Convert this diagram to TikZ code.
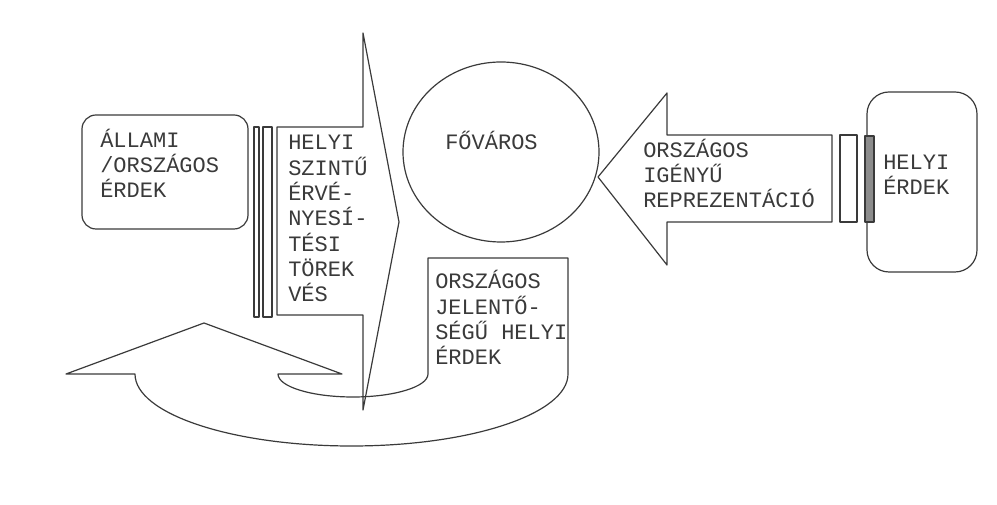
\documentclass[tikz,border=0pt]{standalone}
\usepackage{fontspec}
\setmainfont{Liberation Mono}
\definecolor{vonal}{HTML}{3A3A3A}
\tikzset{
  felirat/.style={align=left,anchor=base west,inner sep=0pt,text=vonal,
    font=\fontsize{16.5}{19}\selectfont},
  keret/.style={draw=vonal,line width=0.9pt,line join=round},
}
\begin{document}
\begin{tikzpicture}[x=0.75pt,y=-0.75pt]
    \useasboundingbox (0,0) rectangle (997,505);
    \def\jobbnyil{(277,127) -- (363,127) -- (363,33) -- (399,222) -- (363,410) -- (363,315) -- (277,315) -- cycle}
    \def\balnyil{(598,177) -- (667,93) -- (667,135) -- (832,135) -- (832,222) -- (667,222) -- (667,265) -- cycle}
    \draw [keret,rounded corners=10.5pt] (82,115) rectangle (248,229);
    \draw [keret] (254,127) rectangle (259,317) (263,127) rectangle (272,317);
    \draw [keret]\jobbnyil;
    \draw [keret] (501,152) ellipse [x radius=98,y radius=90];
    \draw [keret]\balnyil;
    \draw [keret] (840,135) rectangle (857,222);
    \draw [keret,rounded corners=16.5pt] (867,92) rectangle (977,272);
    \draw [keret,fill=black!45] (865,136) rectangle (874,222);
    \draw [keret] (278,374) arc [start angle=180,end angle=0,x radius=75,y radius=23]
        -- (428,258) -- (568,258) -- (568,374)
        arc [start angle=0,end angle=180,x radius=216.5,y radius=72]
        -- (66,374) -- (204,323) -- (342,374) -- cycle;
    \node [felirat] (allami) at (100,198) {ÁLLAMI\\/ORSZÁGOS\\ÉRDEK};
    \node [felirat] (szint) at (288,302) {HELYI\\SZINTŰ\\ÉRVÉ-\\NYESÍ-\\TÉSI\\TÖREK\\VÉS};
    \node [felirat] (fovaros) at (445,150) {FŐVÁROS};
    \node [felirat] (igeny) at (643,208) {ORSZÁGOS\\IGÉNYŰ\\REPREZENTÁCIÓ};
    \node [felirat] (helyi) at (883,195) {HELYI\\ÉRDEK};
    \node [felirat] (jelentos) at (435,365) {ORSZÁGOS\\JELENTŐ-\\SÉGŰ HELYI\\ÉRDEK};
\end{tikzpicture}
\end{document}
